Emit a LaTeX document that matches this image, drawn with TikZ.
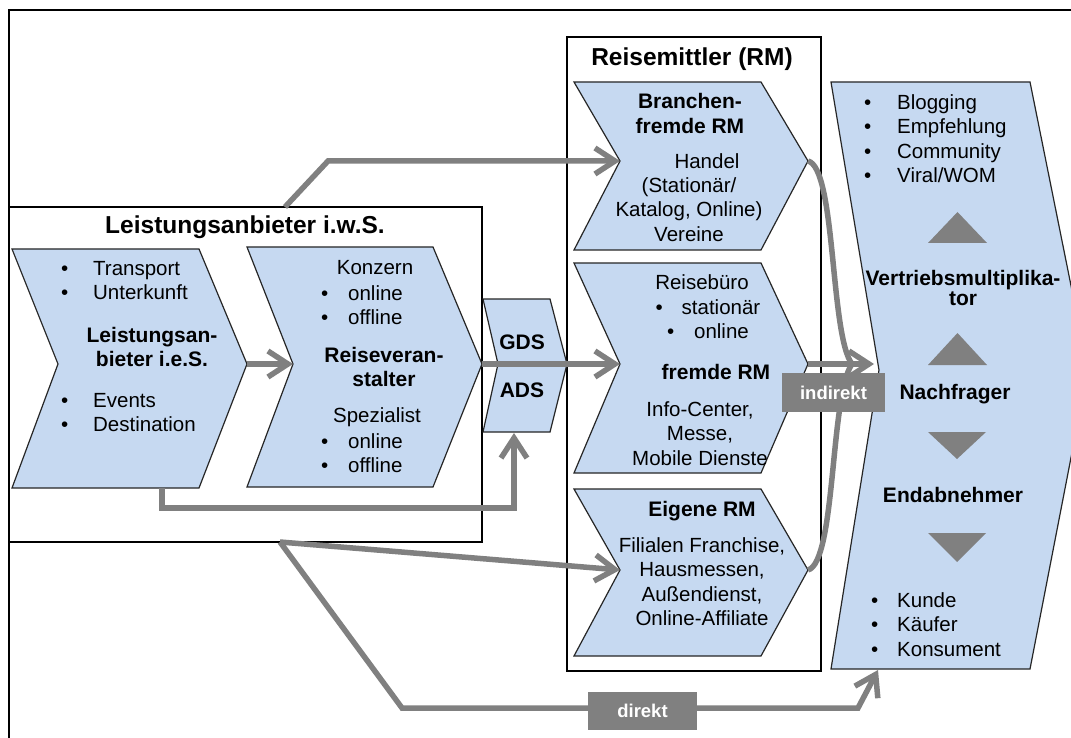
\documentclass[tikz,border=0pt]{standalone}
\usepackage{fontspec}
\setmainfont{Liberation Sans}
\usetikzlibrary{arrows.meta}

\definecolor{chevblue}{RGB}{198,217,241}
\definecolor{flowgray}{RGB}{128,128,128}

\tikzset{
  boxframe/.style={draw=black, line width=1.3pt, fill=white},
  chev/.style={fill=chevblue, draw=black!85, line width=1.2pt},
  flowline/.style={draw=flowgray, line width=5.5pt},
  flow/.style={flowline, -{Straight Barb[length=20pt,width=26pt]}},
  flowtag/.style={fill=flowgray, text=white, inner sep=0pt, font=\fontsize{18.5}{20}\selectfont\bfseries},
  txt/.style={inner sep=0pt, anchor=base, align=center, font=\fontsize{20.5}{24.5}\selectfont},
  lst/.style={txt, anchor=base west, align=left},
  hd/.style={txt, font=\fontsize{21}{24.5}\selectfont\bfseries},
  ttl/.style={txt, font=\fontsize{24.5}{28}\selectfont\bfseries}
}

% bullet item
\newcommand{\itm}[2][28pt]{\makebox[#1][l]{\textbullet}#2}
% chevron: name, left, top, tip x, bottom, mid y, tip depth, notch depth
\newcommand{\chevshape}[8]{%
  \draw[chev] (#2,#3) -- ({#4-#7},#3) -- (#4,#6) -- ({#4-#7},#5) -- (#2,#5) -- ({#2+#8},#6) -- cycle;
  \coordinate (#1-tip) at (#4,#6);
  \coordinate (#1-notch) at ({#2+#8},#6);
}

\begin{document}
\begin{tikzpicture}[x=1pt, y=-1pt]
\useasboundingbox (0,0) rectangle (1071,738);
\clip (0,0) rectangle (1071,738);

% frames
\draw[boxframe] (9,10) rectangle (1090,760);
\draw[boxframe] (9,207) rectangle (482,542);
\draw[boxframe] (567,37) rectangle (821,671);
\node[ttl] (la-title) at (245,234) {Leistungsanbieter i.w.S.};
\node[ttl] (rm-title) at (692,66) {Reisemittler (RM)};

% chevrons
\chevshape{la}{12}{249}{247}{488}{364}{48}{46}
\chevshape{rv}{247}{247}{482}{487}{364}{49}{46}
\chevshape{gds}{483}{299}{567}{432}{364}{17}{15}
\chevshape{bf}{574}{82}{808}{250}{161}{47}{46}
\chevshape{fr}{574}{263}{808}{473}{364}{47}{46}
\chevshape{eg}{574}{489}{808}{656}{570}{47}{46}
\chevshape{ny}{831}{82}{1088}{669}{370}{58}{48}

\coordinate (la-top) at (285,207);
\coordinate (la-out) at (280,542);
\coordinate (la-foot) at (162,488);
\coordinate (gds-foot) at (514,433);
\coordinate (ny-in) at (874,364);
\coordinate (ny-foot) at (878,670);

% connectors
\draw[flow] (la-tip) -- (rv-notch);
\draw[flow] (rv-tip) -- (fr-notch);
\draw[flow] (la-top) -- ++(43,-46) -- (bf-notch);
\draw[flow] (la-foot) -- ++(0,20) -| (gds-foot);
\draw[flow] (la-out) -- (eg-notch);
\draw[flow] (la-out) -- (402,708) -- (858,708) -- (ny-foot);
\draw[flowline] (bf-tip) .. controls (836,168) and (830,335) .. (852,364);
\draw[flowline] (eg-tip) .. controls (836,562) and (830,395) .. (852,364);
\draw[flow] (fr-tip) -- (ny-in);
\node[flowtag, minimum width=103pt, minimum height=39pt] (ind-tag) at (833.5,392.5) {indirekt};
\node[flowtag, minimum width=109pt, minimum height=38pt] (dir-tag) at (642.5,711) {direkt};

% triangles
\fill[flowgray] (928,243) -- (957.5,212) -- (987,243) -- cycle;
\fill[flowgray] (928,365) -- (957.5,333) -- (987,365) -- cycle;
\fill[flowgray] (928,432) -- (957,459) -- (986,432) -- cycle;
\fill[flowgray] (928,533) -- (957,562) -- (986,533) -- cycle;

% texts (multi-line nodes sit on the baseline of their last line)
\node[lst] (la-items1) at (61,299.5) {\itm[32pt]{Transport}\\\itm[32pt]{Unterkunft}};
\node[hd] (la-name) at (152,366.5) {Leistungsan-\\bieter i.e.S.};
\node[lst] (la-items2) at (61,431.5) {\itm[32pt]{Events}\\\itm[32pt]{Destination}};

\node[txt] (rv-konzern) at (375,274) {Konzern};
\node[lst] (rv-items1) at (321,324.5) {\itm[27pt]{online}\\\itm[27pt]{offline}};
\node[hd] (rv-name) at (384,386.5) {Reiseveran-\\stalter};
\node[txt] (rv-spezialist) at (377,422) {Spezialist};
\node[lst] (rv-items2) at (321,472.5) {\itm[27pt]{online}\\\itm[27pt]{offline}};

\node[hd] (gds-label) at (522,349) {GDS};
\node[hd] (ads-label) at (522,397) {ADS};

\node[hd] (bf-name) at (690,133.5) {Branchen-\\fremde RM};
\node[txt] (bf-handel) at (707,169) {Handel};
\node[txt] (bf-list) at (689,241) {(Stationär/\\Katalog, Online)\\Vereine};

\node[txt] (fr-buero) at (702,289) {Reisebüro};
\node[txt] (fr-items) at (708,338.5) {\itm[26pt]{stationär}\\\itm[27pt]{online}};
\node[hd] (fr-name) at (716,379) {fremde RM};
\node[txt] (fr-list) at (700,465) {Info-Center,\\Messe,\\Mobile Dienste};

\node[hd] (eg-name) at (702,516) {Eigene RM};
\node[txt] (eg-list) at (702,625.5) {Filialen Franchise,\\Hausmessen,\\Außendienst,\\Online-Affiliate};

\node[lst] (ny-items1) at (864,182.5) {\itm[33pt]{Blogging}\\\itm[33pt]{Empfehlung}\\\itm[33pt]{Community}\\\itm[33pt]{Viral/WOM}};
\node[hd, font=\fontsize{21}{20}\selectfont\bfseries] (ny-multi) at (963,305) {Vertriebsmultiplika-\\tor};
\node[hd] (ny-nachfrager) at (955,399) {Nachfrager};
\node[hd] (ny-end) at (953,502) {Endabnehmer};
\node[lst] (ny-items2) at (871,656) {\itm[26pt]{Kunde}\\\itm[26pt]{Käufer}\\\itm[26pt]{Konsument}};
\end{tikzpicture}
\end{document}
